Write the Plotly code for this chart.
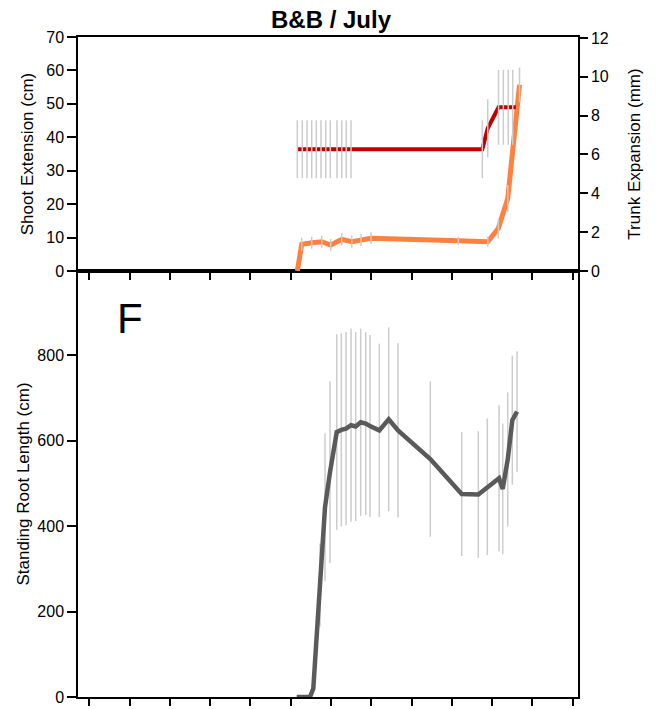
import plotly.graph_objects as go

# ---------------- data (x = days) ----------------
shoot_days = [51.64, 52.73, 55.21, 57.70, 59.93, 62.66, 65.14, 67.45, 69.93, 91.60, 98.90, 101.53, 103.86, 106.79]
shoot_cm = [0.0, 7.98, 8.46, 8.75, 7.77, 9.47, 8.75, 9.26, 9.77, 9.05, 8.75, 12.76, 21.72, 55.7]
shoot_sd = [0.0, 2.0, 1.8, 1.8, 1.8, 1.8, 1.8, 1.8, 1.8, 1.2, 1.5, 3.0, 4.0, 5.2]

trunk_days = [51.64, 52.88, 54.05, 55.21, 56.35, 57.52, 58.69, 59.83, 61.49, 62.66, 63.80, 64.97,
              97.56, 98.90, 101.58, 102.77, 103.99, 105.10, 105.87]
trunk_mm = [6.27, 6.27, 6.27, 6.27, 6.27, 6.27, 6.27, 6.27, 6.27, 6.27, 6.27, 6.27,
            6.27, 7.35, 8.43, 8.43, 8.43, 8.43, 8.43]
trunk_sd = [1.49, 1.49, 1.49, 1.49, 1.49, 1.49, 1.49, 1.49, 1.49, 1.49, 1.49, 1.49,
            1.49, 1.49, 1.93, 1.93, 1.93, 1.93, 0.0]

root_days = [51.49, 54.79, 55.61, 57.27, 58.51, 59.75, 61.42, 62.56, 63.73, 64.97, 66.13, 67.37,
             68.62, 69.68, 71.99, 74.32, 76.63, 84.65, 92.44, 96.56, 98.80, 101.70, 102.62,
             103.86, 105.00, 106.17]
root_cm = [0, 0, 20, 262, 444, 526, 620, 625, 628, 636, 633, 643, 640, 634, 624, 650, 624, 557,
           475, 474, 492, 512, 487, 556, 648, 668]
root_sd = [0, 0, 0, 97, 173, 213, 229, 226, 226, 226, 221, 219, 214, 213, 203, 215, 204, 182,
           145, 148, 160, 171, 153, 157, 151, 141]

x_ticks = [0, 10, 20, 30, 40, 50, 60, 70, 80, 90, 100, 110, 120]
shoot_ticks = [0, 10, 20, 30, 40, 50, 60, 70]
trunk_ticks = [0, 2, 4, 6, 8, 10, 12]
root_ticks = [0, 200, 400, 600, 800]

# ---------------- styles ----------------
FONT = "Arial, Liberation Sans, sans-serif"
ERR_COLOR = "#cccccc"
RED = "#c00000"
ORANGE = "#ff8040"
GREY = "#5a5a5a"

fig = go.Figure()

# bottom panel: error bars behind line
fig.add_trace(go.Scatter(x=root_days, y=root_cm, mode="markers", xaxis="x", yaxis="y",
                         marker=dict(size=1, opacity=0),
                         error_y=dict(type="data", array=root_sd, color=ERR_COLOR, thickness=1.5, width=0),
                         showlegend=False, hoverinfo="skip"))
fig.add_trace(go.Scatter(x=root_days, y=root_cm, mode="lines", xaxis="x", yaxis="y",
                         line=dict(color=GREY, width=4.5), showlegend=False))

# top panel: shoot extension (left axis)
fig.add_trace(go.Scatter(x=shoot_days, y=shoot_cm, mode="lines", xaxis="x2", yaxis="y2",
                         line=dict(color=ORANGE, width=5), showlegend=False))
fig.add_trace(go.Scatter(x=shoot_days, y=shoot_cm, mode="markers", xaxis="x2", yaxis="y2",
                         marker=dict(size=1, opacity=0),
                         error_y=dict(type="data", array=shoot_sd, color=ERR_COLOR, thickness=1.5, width=0),
                         showlegend=False, hoverinfo="skip"))

# top panel: trunk expansion (right axis)
fig.add_trace(go.Scatter(x=trunk_days, y=trunk_mm, mode="lines", xaxis="x2", yaxis="y3",
                         line=dict(color=RED, width=4), showlegend=False))
fig.add_trace(go.Scatter(x=trunk_days, y=trunk_mm, mode="markers", xaxis="x2", yaxis="y3",
                         marker=dict(size=1, opacity=0),
                         error_y=dict(type="data", array=trunk_sd, color=ERR_COLOR, thickness=1.5, width=0),
                         showlegend=False, hoverinfo="skip"))

split = 426.0 / 660.0
xr = [-2.79, 121.3]

common_x = dict(range=xr, tickmode="array", tickvals=x_ticks, showticklabels=False,
                ticks="outside", ticklen=7, tickwidth=1.5, tickcolor="black",
                showline=True, linewidth=1.5, linecolor="black", mirror=True,
                showgrid=False, zeroline=False, automargin=False)
common_y = dict(ticks="outside", ticklen=9, tickwidth=1.5, tickcolor="black",
                showline=True, linewidth=1.5, linecolor="black",
                showgrid=False, zeroline=False, automargin=False,
                tickfont=dict(family=FONT, size=16, color="black"))

fig.update_layout(
    width=659, height=709,
    margin=dict(l=78, r=81, t=37, b=12, autoexpand=False),
    paper_bgcolor="white", plot_bgcolor="white",
    font=dict(family=FONT, color="black"),
    title=dict(text="B&B / July", x=(331.0 / 659.0), xanchor="center",
               y=1 - 20.0 / 709.0, yanchor="middle", yref="container", automargin=False,
               font=dict(family=FONT, size=24, color="black", weight="bold")),
    xaxis=dict(domain=[0, 1], anchor="y", **common_x),
    xaxis2=dict(domain=[0, 1], anchor="y2", matches="x", **common_x),
    yaxis=dict(domain=[0, split], anchor="x", range=[0, 997], tickmode="array", tickvals=root_ticks,
               mirror=True,
               title=dict(text="Standing Root Length (cm)", font=dict(family=FONT, size=17), standoff=3),
               **common_y),
    yaxis2=dict(domain=[split, 1], anchor="x2", range=[0, 70], tickmode="array", tickvals=shoot_ticks,
                title=dict(text="Shoot Extension (cm)", font=dict(family=FONT, size=17), standoff=8),
                **common_y),
    yaxis3=dict(overlaying="y2", side="right", anchor="x2", range=[0, 12.05], tickmode="array",
                tickvals=trunk_ticks, ticklen=8,
                title=dict(text="Trunk Expansion (mm)", font=dict(family=FONT, size=17), standoff=20),
                **{k: v for k, v in common_y.items() if k != "ticklen"}),
    annotations=[dict(text="F", xref="paper", yref="paper", x=(115 - 78) / 500.0, y=(697 - 318) / 660.0,
                      xanchor="left", yanchor="middle", showarrow=False,
                      font=dict(family=FONT, size=42, color="black"))],
)

fig.write_html("out.html")
